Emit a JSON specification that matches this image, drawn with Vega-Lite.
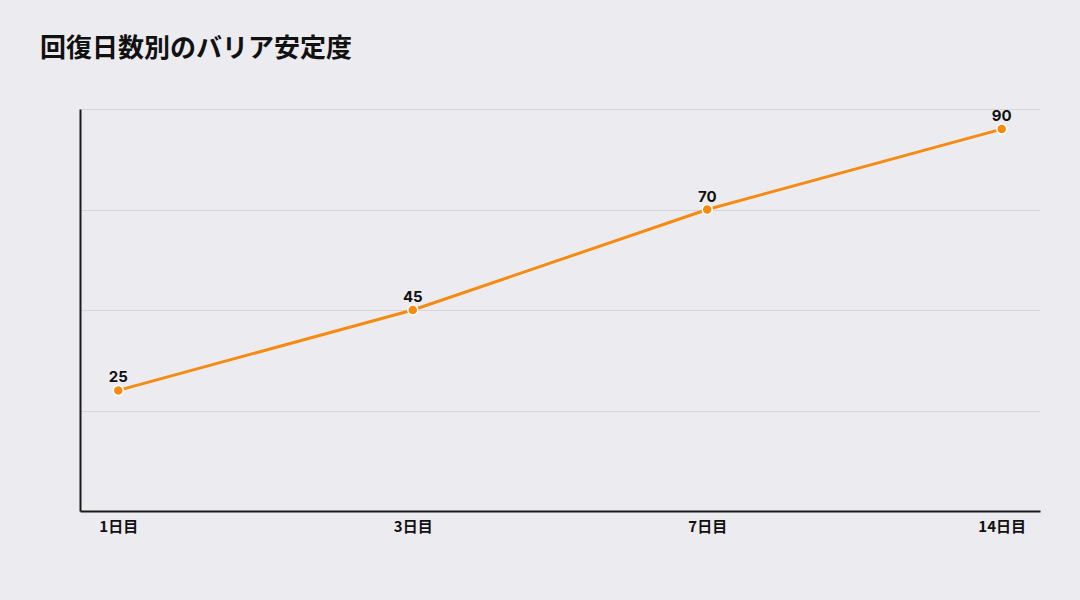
{
  "$schema": "https://vega.github.io/schema/vega-lite/v6.json",
  "autosize": {"type": "none"},
  "padding": {"left": 80, "top": 109, "right": 40, "bottom": 89},
  "width": 960,
  "height": 402,
  "background": "#ECEBF0",
  "title": {
    "text": "回復日数別のバリア安定度",
    "anchor": "start",
    "frame": "group",
    "dx": -40,
    "offset": 47,
    "font": "Noto Sans CJK JP",
    "fontSize": 26,
    "fontWeight": "bold",
    "color": "#111111"
  },
  "config": {
    "view": {"stroke": null},
    "font": "Inter, Noto Sans CJK JP"
  },
  "data": {
    "values": [
      {"day": "1日目", "value": 25},
      {"day": "3日目", "value": 45},
      {"day": "7日目", "value": 70},
      {"day": "14日目", "value": 90}
    ]
  },
  "encoding": {
    "x": {
      "field": "day",
      "type": "ordinal",
      "sort": null,
      "scale": {"type": "point", "padding": 0.13},
      "axis": {
        "title": null,
        "labelAngle": 0,
        "labelFont": "Noto Sans CJK JP",
        "labelFontSize": 15,
        "labelFontWeight": "bold",
        "labelColor": "#111111",
        "labelPadding": 8,
        "ticks": false,
        "domainColor": "#1a1a1a",
        "domainWidth": 2,
        "grid": false
      }
    },
    "y": {
      "field": "value",
      "type": "quantitative",
      "scale": {"domain": [-5, 95], "nice": false, "zero": false},
      "axis": {
        "title": null,
        "labels": false,
        "ticks": false,
        "values": [-5, 20, 45, 70, 95],
        "domainColor": "#1a1a1a",
        "domainWidth": 2,
        "gridColor": "#D6D6DA",
        "gridWidth": 1
      }
    }
  },
  "layer": [
    {
      "mark": {"type": "line", "color": "#F58B11", "strokeWidth": 3}
    },
    {
      "mark": {"type": "point", "filled": true, "color": "#F58B11", "size": 100, "stroke": "#FFFFFF", "strokeWidth": 1.5, "opacity": 1}
    },
    {
      "mark": {"type": "text", "dy": -5, "fontSize": 15, "fontWeight": "bold", "color": "#111111", "baseline": "bottom", "font": "Inter"},
      "encoding": {"text": {"field": "value", "type": "quantitative"}}
    }
  ]
}
